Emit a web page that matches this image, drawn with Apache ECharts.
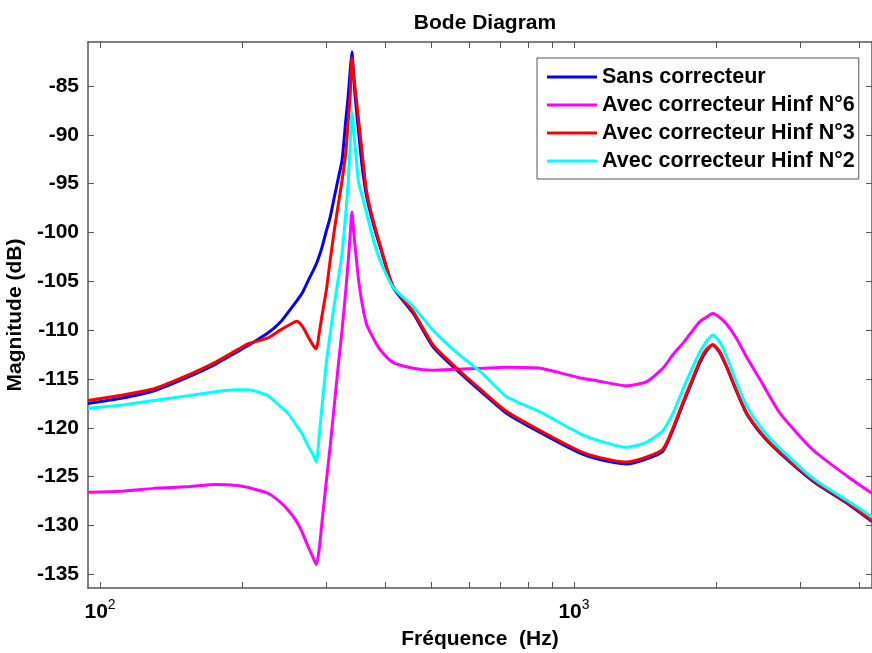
<!DOCTYPE html>
<html>
<head>
    <meta charset="utf-8">
    <script src="https://cdn.jsdelivr.net/npm/echarts@6/dist/echarts.min.js"></script>
</head>
<body style="margin:0">

    <div id="main" style="width:872px;height:653px;"></div>

<script type="text/javascript">
// frequences (Hz) communes aux 4 courbes
var freqs = [94.3, 110, 130, 155, 175, 195, 205, 226, 240, 250, 260, 267, 275, 281, 286, 290, 294, 300, 306, 312,
    318, 324, 330, 334, 337, 340, 343, 347, 351, 357, 365, 378, 390, 415, 458, 504, 566, 640, 720, 850,
    1030, 1124, 1290, 1420, 1540, 1618, 1700, 1757, 1845, 1900, 1962, 2030, 2100, 2200, 2310, 2500, 2720, 3200, 3760, 4254];

var sansCorrecteur = [-117.5, -117.0, -116.2, -114.7, -113.5, -112.2, -111.6, -110.3, -109.2, -108.1, -107.0, -106.2, -104.9, -104.0, -103.2, -102.4, -101.5, -99.9, -98.4, -96.4,
    -94.5, -92.6, -88.5, -85.9, -83.5, -81.5, -84.3, -87.2, -89.6, -93.1, -96.3, -99.3, -101.5, -105.6, -108.3, -111.7, -114.1, -116.4, -118.5, -120.5,
    -122.6, -123.2, -123.7, -123.2, -122.4, -120.2, -117.5, -115.8, -113.3, -112.2, -111.5, -112.3, -113.8, -116.2, -118.5, -120.8, -122.6, -125.5, -127.7, -129.6];

var hinf6 = [-126.6, -126.5, -126.2, -126.0, -125.8, -125.9, -126.1, -126.7, -127.6, -128.5, -129.6, -130.7, -132.2, -133.2, -134.0, -132.4, -129.6, -125.6, -121.8, -117.7,
    -113.7, -110.0, -105.9, -102.8, -100.3, -97.9, -100.0, -102.5, -104.8, -107.2, -109.4, -110.9, -112.0, -113.3, -113.9, -114.1, -114.0, -113.9, -113.8, -113.9,
    -114.9, -115.2, -115.7, -115.3, -113.9, -112.5, -111.3, -110.4, -109.1, -108.7, -108.3, -108.7, -109.4, -110.8, -112.7, -115.5, -118.5, -122.3, -124.9, -126.7];

var hinf3 = [-117.2, -116.7, -116.0, -114.5, -113.3, -112.0, -111.4, -110.8, -110.0, -109.5, -109.1, -109.6, -110.7, -111.5, -111.9, -110.3, -108.5, -106.0, -102.8, -99.8,
    -97.2, -94.7, -91.8, -88.5, -86.1, -82.1, -83.9, -86.2, -88.4, -91.7, -95.8, -99.0, -101.3, -105.5, -108.1, -111.5, -113.9, -116.2, -118.3, -120.3,
    -122.4, -123.0, -123.5, -123.0, -122.2, -120.0, -117.3, -115.6, -113.1, -112.0, -111.5, -112.2, -113.7, -116.1, -118.4, -120.7, -122.5, -125.4, -127.6, -129.5];

var hinf2 = [-118.0, -117.7, -117.2, -116.7, -116.3, -116.1, -116.1, -116.7, -117.8, -118.6, -119.8, -120.6, -121.9, -122.7, -123.5, -120.8, -117.8, -113.5, -110.3, -107.4,
    -104.8, -102.2, -98.0, -94.7, -91.0, -87.7, -89.7, -92.3, -94.8, -96.2, -98.0, -100.9, -102.9, -105.6, -107.6, -110.0, -112.3, -114.4, -116.8, -118.4,
    -120.6, -121.3, -122.0, -121.5, -120.3, -118.5, -116.0, -114.4, -112.2, -111.2, -110.5, -111.2, -112.7, -115.3, -117.7, -120.2, -122.1, -125.2, -127.4, -129.1];

var names = ['Sans correcteur', 'Avec correcteur Hinf N°6', 'Avec correcteur Hinf N°3', 'Avec correcteur Hinf N°2'];
var colors = ['#0000ff', '#ff00ff', '#ff0000', '#00ffff'];
var courbes = [sansCorrecteur, hinf6, hinf3, hinf2];

var xTicks = [100, 200, 300, 400, 500, 600, 700, 800, 900, 1000, 2000, 3000, 4000];
var xLabels = [100, 1000];
var yTicks = [-135, -130, -125, -120, -115, -110, -105, -100, -95, -90, -85];

function paires(vals) {
    return freqs.map(function (f, i) { return [f, vals[i]]; });
}

var myChart = echarts.init(document.getElementById('main'));

var police = 'Liberation Sans, Arial, sans-serif';
var gris = '#555';
var taille = 21;

var option = {
    animation: false,
    backgroundColor: '#fff',
    title: {
        text: 'Bode Diagram',
        left: 480, top: 8, textAlign: 'center',
        textStyle: { fontFamily: police, fontWeight: 'bold', fontSize: taille, color: '#000' }
    },
    legend: {
        orient: 'vertical',
        left: 537, top: 58,
        data: names,
        icon: 'path://M0,0L50,0L50,3L0,3Z',
        itemWidth: 50, itemHeight: 3, itemGap: 6,
        padding: [8, 4, 7, 10],
        borderColor: gris, borderWidth: 1,
        backgroundColor: '#fff',
        textStyle: { fontFamily: police, fontWeight: 'bold', fontSize: 21.5, color: '#000' }
    },
    grid: { left: 88, top: 42, right: 0, bottom: 65, outerBoundsMode: 'none' },
    xAxis: [
        {
            type: 'log', position: 'bottom', min: 94.3, max: 4254,
            name: 'Fréquence  (Hz)', nameLocation: 'middle', nameGap: 41,
            nameTextStyle: { fontFamily: police, fontWeight: 'bold', fontSize: taille, color: '#000' },
            axisLine: { lineStyle: { color: gris, width: 1.5 } },
            axisTick: { inside: true, length: 6, customValues: xTicks, lineStyle: { color: gris } },
            axisLabel: {
                customValues: xLabels, margin: 10,
                formatter: function (v) {
                    return '{b|10}{s|' + Math.round(Math.log10(v)) + '}';
                },
                rich: {
                    b: { fontFamily: police, fontWeight: 'bold', fontSize: 21, color: '#000' },
                    s: { fontFamily: police, fontSize: 14, color: '#000', verticalAlign: 'top', padding: [0, 0, 14, 0] }
                }
            },
            splitLine: { show: false }
        },
        {
            type: 'log', position: 'top', min: 94.3, max: 4254,
            axisLine: { lineStyle: { color: gris, width: 1.5 } },
            axisTick: { inside: true, length: 6, customValues: xTicks, lineStyle: { color: gris } },
            axisLabel: { show: false },
            splitLine: { show: false }
        }
    ],
    yAxis: [
        {
            type: 'value', position: 'left', min: -136.4, max: -80.5,
            name: 'Magnitude (dB)', nameLocation: 'middle', nameGap: 57, nameRotate: 90,
            nameTextStyle: { fontFamily: police, fontWeight: 'bold', fontSize: taille, color: '#000' },
            axisLine: { show: true, lineStyle: { color: gris, width: 1.5 } },
            axisTick: { show: true, inside: true, length: 6, customValues: yTicks, lineStyle: { color: gris } },
            axisLabel: {
                customValues: yTicks, margin: 9,
                fontFamily: police, fontWeight: 'bold', fontSize: taille, color: '#000'
            },
            splitLine: { show: false }
        },
        {
            type: 'value', position: 'right', min: -136.4, max: -80.5,
            axisLine: { show: true, lineStyle: { color: gris, width: 1.5 } },
            axisTick: { show: true, inside: true, length: 6, customValues: yTicks, lineStyle: { color: gris } },
            axisLabel: { show: false },
            splitLine: { show: false }
        }
    ],
    series: names.map(function (n, i) {
        return {
            name: n,
            type: 'line',
            xAxisIndex: 0, yAxisIndex: 0,
            data: paires(courbes[i]),
            symbol: 'none',
            smooth: 0.2,
            color: colors[i],
            lineStyle: { color: colors[i], width: 3 }
        };
    })
};

myChart.setOption(option);
</script>

</body>
</html>
